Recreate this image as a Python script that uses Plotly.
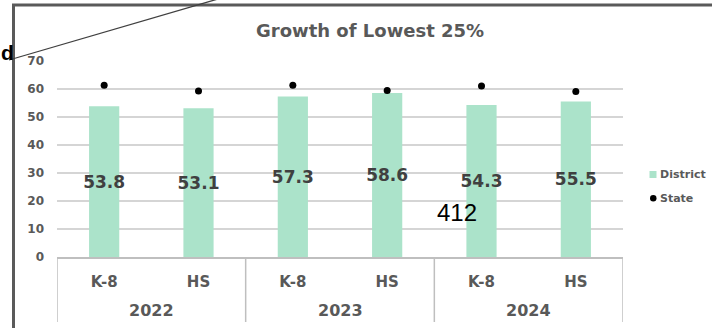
import plotly.graph_objects as go

# ---- data ----
years = ["2022", "2022", "2023", "2023", "2024", "2024"]
levels = ["K-8", "HS", "K-8", "HS", "K-8", "HS"]
district = [53.8, 53.1, 57.3, 58.6, 54.3, 55.5]
state = [61.3, 59.3, 61.3, 59.5, 61.1, 59.1]
y_ticks = [0, 10, 20, 30, 40, 50, 60, 70]

# one category per (year, level) pair
categories = [f"{y} {lv}" for y, lv in zip(years, levels)]

# ---- page geometry (pixels) ----
W, H = 712, 328
L, R, T, B = 57, 89, 61, 71
PW, PH = W - L - R, H - T - B


def px(x):
    """pixel x -> paper x"""
    return (x - L) / PW


def py(y):
    """pixel y (from top) -> paper y"""
    return 1 - (y - T) / PH


GREEN = "#ABE3CA"
GRAY = "#595959"
AXIS_GRAY = "#BFBFBF"
FONT = "DejaVu Sans"

fig = go.Figure()

fig.add_trace(go.Bar(
    x=categories,
    y=district,
    name="District",
    marker=dict(color=GREEN, line=dict(width=0)),
    width=0.32,
    text=[f"<b>{v:.1f}</b>" for v in district],
    textposition="inside",
    insidetextanchor="middle",
    textangle=0,
    constraintext="none",
    textfont=dict(family=FONT, size=17, color="#404040"),
    cliponaxis=False,
    showlegend=False,
))

fig.add_trace(go.Scatter(
    x=categories,
    y=state,
    name="State",
    mode="markers",
    marker=dict(color="black", size=7),
    showlegend=False,
))

shapes = [
    # outer frame (left and top edges)
    dict(type="line", xref="paper", yref="paper",
         x0=px(13.5), y0=py(5), x1=px(13.5), y1=py(335),
         line=dict(color="#5A5A5A", width=3)),
    dict(type="line", xref="paper", yref="paper",
         x0=px(12), y0=py(5), x1=px(720), y1=py(5),
         line=dict(color="#5A5A5A", width=3)),
    # leader line from the caption on the left
    dict(type="line", xref="paper", yref="paper",
         x0=px(9), y0=py(60), x1=px(218), y1=py(-1),
         line=dict(color="#404040", width=1.3)),
    # legend swatches
    dict(type="rect", xref="paper", yref="paper",
         x0=px(649.5), y0=py(171), x1=px(656.5), y1=py(178),
         fillcolor=GREEN, line=dict(width=0)),
    dict(type="circle", xref="paper", yref="paper",
         x0=px(650), y0=py(195), x1=px(656.5), y1=py(201.5),
         fillcolor="black", line=dict(width=0)),
]

annotations = [
    dict(text="<b>Growth of Lowest 25%</b>", xref="paper", yref="paper",
         x=px(370), y=py(31), xanchor="center", yanchor="middle",
         showarrow=False, font=dict(family=FONT, size=18, color=GRAY)),
    dict(text="<b>District</b>", xref="paper", yref="paper",
         x=px(658), y=py(174.5), xanchor="left", yanchor="middle",
         showarrow=False, font=dict(family=FONT, size=11, color=GRAY)),
    dict(text="<b>State</b>", xref="paper", yref="paper",
         x=px(658), y=py(198.5), xanchor="left", yanchor="middle",
         showarrow=False, font=dict(family=FONT, size=11, color=GRAY)),
    dict(text="412", xref="paper", yref="paper",
         x=px(457), y=py(212), xanchor="center", yanchor="middle",
         showarrow=False, font=dict(family="Liberation Sans", size=24, color="black")),
    dict(text="<b>d</b>", xref="paper", yref="paper",
         x=px(0), y=py(53), xanchor="left", yanchor="middle",
         showarrow=False, borderpad=0,
         font=dict(family="Liberation Sans", size=21, color="black")),
]

# year group labels and the group dividers under the category axis
groups = []
for i, y in enumerate(years):
    if not groups or groups[-1][0] != y:
        groups.append([y, i, i])
    else:
        groups[-1][2] = i

for y, first, last in groups:
    annotations.append(dict(
        text=f"<b>{y}</b>", xref="x", yref="paper",
        x=(first + last) / 2, y=py(310), xanchor="center", yanchor="middle",
        showarrow=False, font=dict(family=FONT, size=16, color=GRAY)))

edges = [groups[0][1] - 0.5] + [g[2] + 0.5 for g in groups]
for e in edges:
    shapes.append(dict(type="line", xref="x", yref="paper",
                       x0=e, x1=e, y0=py(257), y1=py(322),
                       line=dict(color=AXIS_GRAY, width=1.5)))

fig.update_layout(
    width=W, height=H,
    margin=dict(l=L, r=R, t=T, b=B, pad=0),
    paper_bgcolor="white", plot_bgcolor="white",
    showlegend=False,
    shapes=shapes,
    annotations=annotations,
    xaxis=dict(
        type="category",
        range=[-0.5, len(categories) - 0.5],
        tickvals=categories,
        ticktext=[f"<b>{lv}</b>" for lv in levels],
        showline=True, linecolor=AXIS_GRAY, linewidth=1.5,
        showgrid=False, ticks="", ticklabelstandoff=10,
        tickfont=dict(family=FONT, size=15, color=GRAY),
    ),
    yaxis=dict(
        range=[0, 70], tickvals=y_ticks, showgrid=True,
        gridcolor="#D5D5D5", gridwidth=1.5, zeroline=False,
        showline=False, ticks="", ticklabelstandoff=12,
        ticktext=[f"<b>{t}</b>" for t in y_ticks],
        tickfont=dict(family=FONT, size=12, color=GRAY),
    ),
)

fig.write_html("out.html")
